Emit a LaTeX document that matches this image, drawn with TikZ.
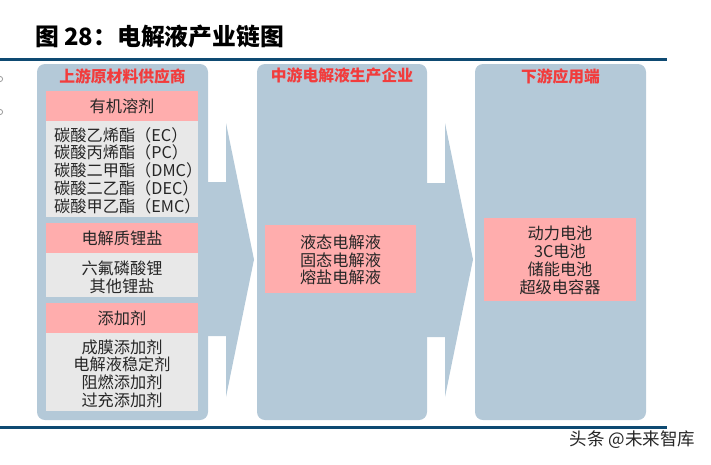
\documentclass[tikz,border=0pt]{standalone}
\usepackage{fontspec}
\setmainfont{Noto Sans CJK SC}
\usetikzlibrary{positioning}
\definecolor{panelblue}{HTML}{B4C9D8}
\definecolor{pinkbox}{HTML}{FFADAD}
\definecolor{graybox}{HTML}{E8E8E8}
\definecolor{headred}{HTML}{F23C3C}
\definecolor{rulecol}{HTML}{0E4A72}
\definecolor{bodytext}{HTML}{262626}
\tikzset{
  panel/.style={fill=panelblue, rounded corners=8pt},
  flowarrow/.style={fill=panelblue},
  pinkhead/.style={fill=pinkbox, inner sep=0pt},
  graypart/.style={fill=graybox, inner sep=0pt},
  headtext/.style={text=headred, font=\fontsize{15.8}{17}\selectfont\bfseries, inner sep=0pt},
  bodyblock/.style={text=bodytext, font=\fontsize{16.2}{17.75}\selectfont, inner sep=0pt},
  rulebar/.style={draw=rulecol, line width=3pt},
}
\begin{document}
\begin{tikzpicture}[x=1pt,y=-1pt]
\useasboundingbox (0,0) rectangle (711,464);
% title
\node[anchor=west, inner sep=0pt, font=\fontsize{23.8}{25}\selectfont\bfseries] (title) at (35,37) {图 28：电解液产业链图};
% rules
\coordinate (r1a) at (0,59.5); \coordinate (r1b) at (667,59.5);
\coordinate (r2a) at (0,427); \coordinate (r2b) at (667,427);
\draw[rulebar] (r1a) -- (r1b);
\draw[rulebar] (r2a) -- (r2b);
% clipped marks at left edge
\draw[gray!80, line width=0.8pt] (0,79) circle (2.6);
\draw[gray!80, line width=0.8pt] (0,112) circle (2.6);
% arrows
\fill[flowarrow] (200,182) -- (226,182) -- (226,123) -- (254,259.5) -- (226,397) -- (226,336) -- (200,336) -- cycle;
\fill[flowarrow] (420,183) -- (445,183) -- (445,123) -- (473,259.5) -- (445,397) -- (445,337) -- (420,337) -- cycle;
% panels
\fill[panel] (37,64) rectangle (208,420);
\fill[panel] (257,64) rectangle (427,420);
\fill[panel] (475,64) rectangle (646,420);
\node[headtext] (h1) at (122.5,76) {上游原材料供应商};
\node[headtext] (h2) at (342,76) {中游电解液生产企业};
\node[headtext] (h3) at (560.5,76) {下游应用端};
% panel 1 boxes
\fill[pinkhead] (46,91) rectangle (198,121);
\fill[graypart] (46,121) rectangle (198,217);
\fill[pinkhead] (46,223) rectangle (198,253);
\fill[graypart] (46,253) rectangle (198,297);
\fill[pinkhead] (46,303) rectangle (198,333);
\fill[graypart] (46,333) rectangle (198,411);
\node[bodyblock] (p1) at (122,106.5) {有机溶剂};
\node[bodyblock, anchor=west, align=left] (g1) at (54,170.5) {碳酸乙烯酯（EC）\\碳酸丙烯酯（PC）\\碳酸二甲酯（DMC）\\碳酸二乙酯（DEC）\\碳酸甲乙酯（EMC）};
\node[bodyblock] (p2) at (122,238.5) {电解质锂盐};
\node[bodyblock, align=center] (g2) at (122,277.5) {六氟磷酸锂\\其他锂盐};
\node[bodyblock] (p3) at (122,318.5) {添加剂};
\node[bodyblock, align=center] (g3) at (122,373.5) {成膜添加剂\\电解液稳定剂\\阻燃添加剂\\过充添加剂};
% panel 2 box
\fill[pinkhead] (265,225) rectangle (416,293);
\node[bodyblock, align=center] (m1) at (340.5,260) {液态电解液\\固态电解液\\熔盐电解液};
% panel 3 box
\fill[pinkhead] (484,218) rectangle (636,301);
\node[bodyblock, align=center, font=\fontsize{16.2}{18}\selectfont] (d1) at (560,260) {动力电池\\3C电池\\储能电池\\超级电容器};
% watermark
\node[text=bodytext, inner sep=0pt, font=\fontsize{17.5}{19}\selectfont] (wm) at (632.5,440) {头条 @未来智库};
\end{tikzpicture}
\end{document}
